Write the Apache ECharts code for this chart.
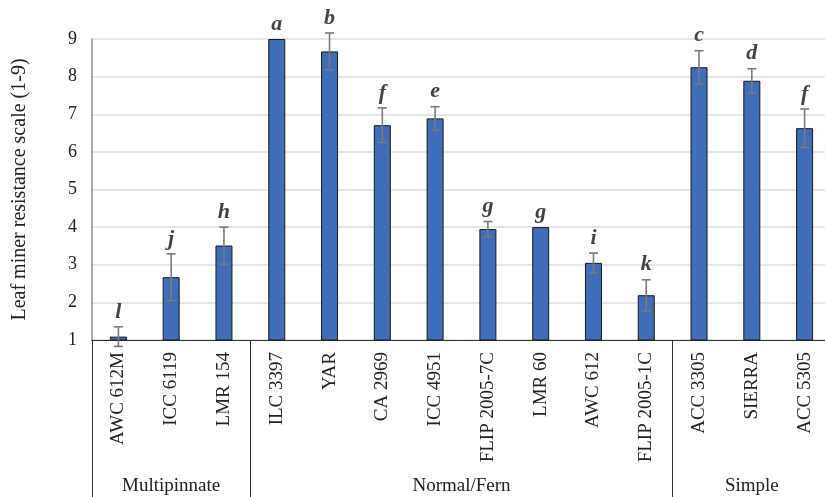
<!DOCTYPE html>
<html>
<head>
<meta charset="utf-8">
<script src="https://cdn.jsdelivr.net/npm/echarts@6/dist/echarts.min.js"></script>
<style>html,body{margin:0;padding:0;background:#fff;}#chart{width:825px;height:497px;}</style>
</head>
<body>
<div id="chart"></div>
<script>
const categories = ['AWC 612M','ICC 6119','LMR 154','ILC 3397','YAR','CA 2969','ICC 4951','FLIP 2005-7C','LMR 60','AWC 612','FLIP 2005-1C','ACC 3305','SIERRA','ACC 5305'];
const values = [1.09, 2.67, 3.51, 9.0, 8.67, 6.71, 6.89, 3.95, 4.0, 3.05, 2.19, 8.25, 7.89, 6.63];
const errors = [0.26, 0.62, 0.49, 0, 0.49, 0.46, 0.31, 0.2, 0, 0.26, 0.41, 0.44, 0.32, 0.51];
const letters = ['l','j','h','a','b','f','e','g','g','i','k','c','d','f'];
const groups = ['Multipinnate','Normal/Fern','Simple'];
const groupStart = [0, 3, 11];
const groupEnd = [3, 11, 14];
const yTicks = [1,2,3,4,5,6,7,8,9];

const FONT = '"Liberation Serif", "Times New Roman", serif';
const groupCenters = groups.map((g, i) => (groupStart[i] + groupEnd[i]) / 2);

const chart = echarts.init(document.getElementById('chart'));
chart.setOption({
  animation: false,
  grid: { left: 92, right: -6, top: 39, bottom: 157, containLabel: false, outerBoundsMode: 'none' },
  xAxis: [{
    type: 'category',
    data: categories,
    boundaryGap: true,
    axisLine: { show: true, lineStyle: { color: '#333', width: 1 } },
    axisTick: {
      show: true,
      length: 160,
      interval: (idx) => groupStart.includes(idx),
      lineStyle: { color: '#333', width: 1 }
    },
    axisLabel: {
      interval: 0, rotate: 90, margin: 12,
      fontFamily: FONT, fontSize: 19, color: '#222'
    },
    splitLine: { show: false }
  }, {
    type: 'value',
    position: 'bottom',
    min: 0, max: 14, interval: 0.5,
    offset: 137,
    axisLine: { show: false },
    axisTick: { show: false },
    splitLine: { show: false },
    axisLabel: {
      show: true, margin: 0,
      fontFamily: FONT, fontSize: 19, color: '#222',
      formatter: (v) => { const i = groupCenters.indexOf(v); return i >= 0 ? groups[i] : ''; }
    }
  }],
  yAxis: {
    type: 'value',
    min: 1, max: 9, interval: 1,
    name: 'Leaf miner resistance scale (1-9)',
    nameLocation: 'middle',
    nameGap: 62,
    nameTextStyle: { fontFamily: FONT, fontSize: 20, color: '#222' },
    axisLine: { show: true, lineStyle: { color: '#8c8c8c', width: 1.5 } },
    axisTick: { show: false },
    axisLabel: {
      margin: 15, fontFamily: FONT, fontSize: 18, color: '#222',
      formatter: (v) => yTicks.includes(v) ? String(v) : ''
    },
    splitLine: { show: true, lineStyle: { color: '#dcdcdc', width: 1.5 } }
  },
  series: [{
    type: 'bar',
    data: values,
    barWidth: 17,
    itemStyle: { color: '#3f6db7', borderColor: '#1a1a1a', borderWidth: 1 },
    z: 2
  }, {
    type: 'custom',
    data: values.map((v, i) => [i, v, errors[i]]),
    z: 3,
    renderItem: (params, api) => {
      const i = api.value(0), v = api.value(1), e = api.value(2);
      const top = api.coord([i, v + e]);
      const bot = api.coord([i, v - e]);
      const x = top[0];
      const children = [];
      const st = { stroke: '#7a7a7a', lineWidth: 1.6 };
      if (e > 0) {
        children.push({ type: 'line', shape: { x1: x, y1: top[1], x2: x, y2: bot[1] }, style: st });
        children.push({ type: 'line', shape: { x1: x - 4.5, y1: top[1], x2: x + 4.5, y2: top[1] }, style: st });
        children.push({ type: 'line', shape: { x1: x - 4.5, y1: bot[1], x2: x + 4.5, y2: bot[1] }, style: st });
      }
      children.push({
        type: 'text',
        style: {
          x: x, y: top[1] - 4,
          text: letters[i],
          fontFamily: FONT, fontSize: 22, fontStyle: 'italic', fontWeight: 'bold',
          fill: '#444', align: 'center', verticalAlign: 'bottom'
        }
      });
      return { type: 'group', children };
    }
  }]
});
</script>
</body>
</html>
